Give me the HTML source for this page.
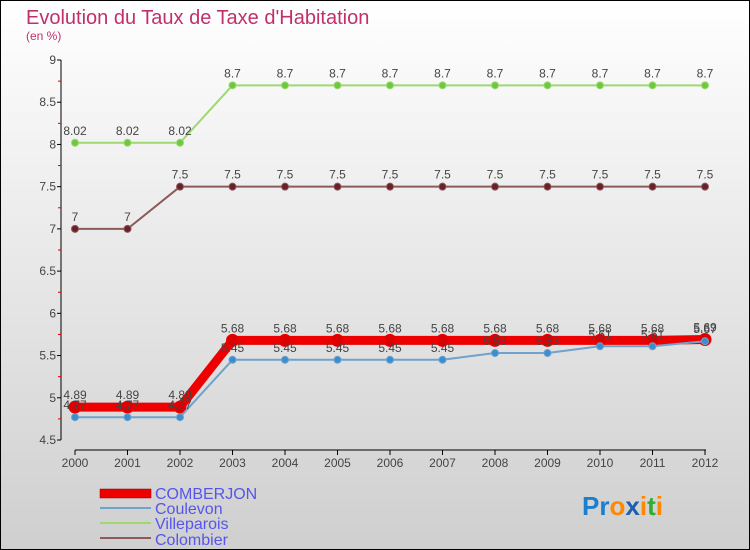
<!DOCTYPE html>
<html><head><meta charset="utf-8"><style>
body{margin:0;width:750px;height:550px;overflow:hidden;font-family:"Liberation Sans",sans-serif}
svg{display:block}
</style></head><body>
<svg id="c" width="750" height="550" xmlns="http://www.w3.org/2000/svg">
<defs><linearGradient id="bg" x1="0" y1="0" x2="0" y2="1"><stop offset="0" stop-color="#ffffff"/><stop offset="1" stop-color="#cfcfcf"/></linearGradient></defs>
<rect x="0.5" y="0.5" width="749" height="549" fill="url(#bg)" stroke="#000"/>
<text x="26" y="24" font-size="20" fill="#c0306a">Evolution du Taux de Taxe d'Habitation</text>
<text x="26" y="40" font-size="12" fill="#c0306a">(en %)</text>
<line x1="61" y1="60" x2="61" y2="440" stroke="#000"/>
<line x1="75" y1="450" x2="706" y2="450" stroke="#000"/>
<g id="plot"></g>
<g font-size="16" fill="#5555ee">
<rect x="100" y="489" width="51" height="9" fill="#e00" stroke="#900" stroke-width="0.5"/>
<text x="155" y="499">COMBERJON</text>
<line x1="100" y1="508" x2="151" y2="508" stroke="#6fa2cc" stroke-width="2"/>
<text x="155" y="514">Coulevon</text>
<line x1="100" y1="523" x2="151" y2="523" stroke="#9ed873" stroke-width="2"/>
<text x="155" y="529">Villeparois</text>
<line x1="100" y1="538" x2="151" y2="538" stroke="#8b5a5a" stroke-width="2"/>
<text x="155" y="545">Colombier</text>
</g>
<g font-size="26" font-weight="bold">
<text x="582" y="515"><tspan fill="#1a7fd0">Pr</tspan><tspan fill="#ff8800">o</tspan><tspan fill="#1a5fb0">x</tspan><tspan fill="#ff8800">i</tspan><tspan fill="#33aa33">t</tspan><tspan fill="#ff8800">i</tspan></text>
</g>
</svg>
<script>
const years=[2000,2001,2002,2003,2004,2005,2006,2007,2008,2009,2010,2011,2012];
const yTicks=[4.5,5,5.5,6,6.5,7,7.5,8,8.5,9];
const villeparois=[8.02,8.02,8.02,8.7,8.7,8.7,8.7,8.7,8.7,8.7,8.7,8.7,8.7];
const colombier=[7,7,7.5,7.5,7.5,7.5,7.5,7.5,7.5,7.5,7.5,7.5,7.5];
const coulevon=[4.77,4.77,4.77,5.45,5.45,5.45,5.45,5.45,5.53,5.53,5.61,5.61,5.67];
const comberjon=[4.89,4.89,4.89,5.68,5.68,5.68,5.68,5.68,5.68,5.68,5.68,5.68,5.69];
const NS="http://www.w3.org/2000/svg";
const g=document.getElementById('plot');
const xs=i=>75+i*52.5;
const ys=v=>440-(v-4.5)*(380/4.5);
function mk(t,a){const e=document.createElementNS(NS,t);for(const k in a)e.setAttribute(k,a[k]);g.appendChild(e);return e;}
yTicks.forEach(v=>{
  const l=mk('line',{x1:57,x2:61,y1:ys(v),y2:ys(v),stroke:'#000'});
  
  
  const t=mk('text',{x:56,y:ys(v)+4,'font-size':12,'text-anchor':'end',fill:'#444'});
  t.textContent=String(v);
  
  
  if(v<9){const m=mk('line',{x1:58,x2:61,y1:ys(v+0.25),y2:ys(v+0.25),stroke:'#d00'});
  
  }
});
years.forEach((y,i)=>{
  const l=mk('line',{x1:xs(i),x2:xs(i),y1:450,y2:455,stroke:'#000'});
  
  
  const t=mk('text',{x:xs(i),y:467,'font-size':12,'text-anchor':'middle',fill:'#444'});
  t.textContent=String(y);
  
  
});
function series(data,name,color,w,r,fill,lab){
  const p=mk('polyline',{points:data.map((v,i)=>xs(i)+','+ys(v)).join(' '),fill:'none',stroke:color,'stroke-width':w,'stroke-linejoin':'round'});
  
  
  data.forEach((v,i)=>{
    const c=mk('circle',{cx:xs(i),cy:ys(v),r:r,fill:fill,stroke:color,'stroke-width':1});
    
    
    if(lab){const t=mk('text',{x:xs(i),y:ys(v)-8,'font-size':12,'text-anchor':'middle',fill:'#444'});
    t.textContent=String(v).replace('.','.');
    
    }
  });
}
series(villeparois,'villeparois','#9ed873',2,3.5,'#6cc83c',true);
series(colombier,'colombier','#8b5a5a',2,3.5,'#6b1f2a',true);
series(comberjon,'comberjon','#e00',9,6,'#d00',true);
series(coulevon,'coulevon','#6fa2cc',2,3.5,'#3a8ed0',true);
</script>
</body></html>
